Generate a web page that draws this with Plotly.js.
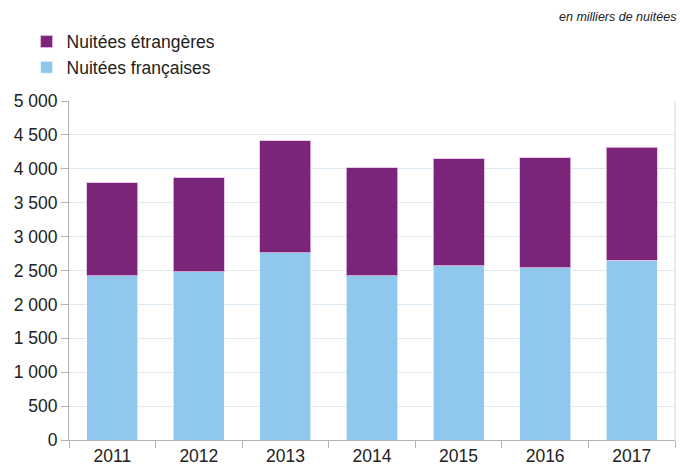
<!DOCTYPE html>
<html>
<head>
<meta charset="utf-8">
<script src="https://cdn.plot.ly/plotly-3.0.1.min.js"></script>
<style>
html,body{margin:0;padding:0;background:#fff;}
#chart{width:680px;height:469px;}
</style>
</head>
<body>
<div id="chart"></div>
<script>
var years = ["2011","2012","2013","2014","2015","2016","2017"];
var francaises = [2421, 2480, 2760, 2421, 2569, 2539, 2648];
var etrangeres = [1376, 1391, 1656, 1592, 1577, 1626, 1670];
var yTicks = [0, 500, 1000, 1500, 2000, 2500, 3000, 3500, 4000, 4500, 5000];

var traces = [
  {
    type: "bar", name: "Nuitées françaises", x: years, y: francaises,
    marker: {color: "#8fc8ec", line: {color: "rgba(255,255,255,0.6)", width: 1}},
    hoverinfo: "y"
  },
  {
    type: "bar", name: "Nuitées étrangères", x: years, y: etrangeres,
    marker: {color: "#7a2579", line: {color: "rgba(230,190,230,0.8)", width: 1}},
    hoverinfo: "y"
  }
];

var layout = {
  width: 680, height: 469,
  margin: {l: 69, r: 5, t: 101, b: 29},
  paper_bgcolor: "#fff", plot_bgcolor: "#fff",
  barmode: "stack",
  bargap: 0.41,
  separators: ", ",
  font: {family: "Liberation Sans, Arial, sans-serif", size: 17.5, color: "#222"},
  showlegend: true,
  legend: {
    x: -0.07, y: 1.228, xanchor: "left", yanchor: "top",
    traceorder: "reversed",
    font: {size: 17.5, color: "#222"},
    itemwidth: 30, tracegroupgap: 0,
    bgcolor: "rgba(0,0,0,0)"
  },
  xaxis: {
    type: "category",
    showgrid: false,
    showline: true, linecolor: "#b3b3b3", linewidth: 1,
    ticks: "outside", tickson: "boundaries", ticklen: 7, tickcolor: "#b3b3b3",
    tickfont: {size: 17.5, color: "#222"},
    fixedrange: true
  },
  yaxis: {
    range: [0, 5000],
    tickvals: yTicks,
    tickformat: ",d",
    showgrid: true, gridcolor: "#dde9f3", gridwidth: 1,
    zeroline: false,
    showline: true, linecolor: "#b3b3b3", linewidth: 1,
    ticks: "outside", ticklen: 7, tickcolor: "#b3b3b3",
    tickfont: {size: 17.5, color: "#222"},
    fixedrange: true
  },
  shapes: [
    {type: "line", xref: "paper", yref: "paper", x0: 1, x1: 1, y0: 0, y1: 1,
     line: {color: "#d9d9d9", width: 1}}
  ],
  annotations: [
    {
      text: "<i>en milliers de nuitées</i>",
      xref: "paper", yref: "paper", x: 1.005, y: 1.248,
      xanchor: "right", yanchor: "middle", showarrow: false,
      font: {family: "Liberation Sans Narrow, Arial Narrow, Liberation Sans, sans-serif", size: 12.5, color: "#222"}
    }
  ]
};

Plotly.newPlot("chart", traces, layout, {displayModeBar: false, staticPlot: true});
</script>
</body>
</html>
